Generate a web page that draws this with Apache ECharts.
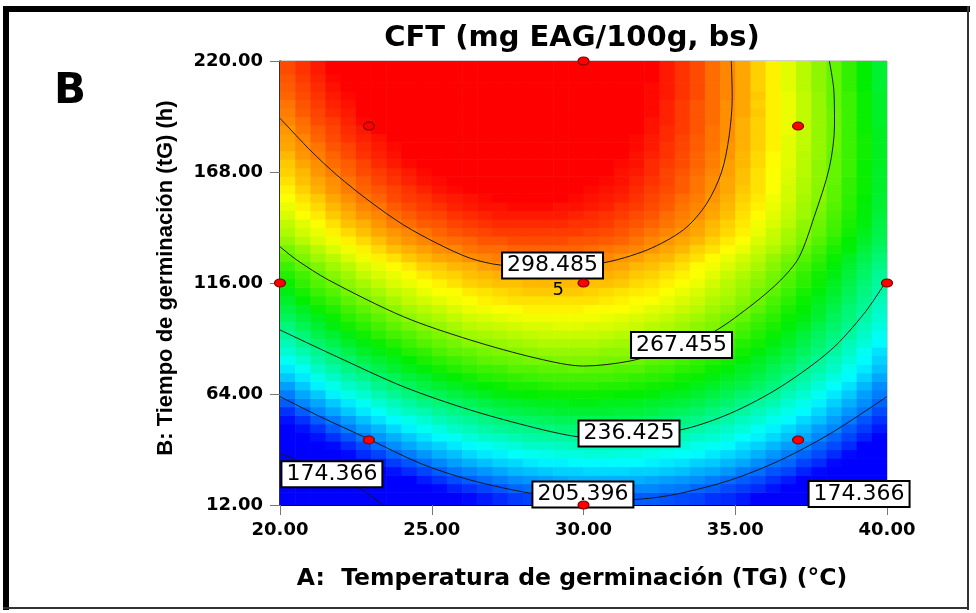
<!DOCTYPE html>
<html><head><meta charset="utf-8">
<script src="https://cdn.jsdelivr.net/npm/echarts@6/dist/echarts.min.js"></script>
<style>html,body{margin:0;padding:0;background:#fff}#chart{width:976px;height:613px}</style>
</head><body><div id="chart"></div>
<script>
// ---- Surface (cell centres) ----
const xCenters = [20.25,20.75,21.25,21.75,22.25,22.75,23.25,23.75,24.25,24.75,25.25,25.75,26.25,26.75,27.25,27.75,28.25,28.75,29.25,29.75,
                  30.25,30.75,31.25,31.75,32.25,32.75,33.25,33.75,34.25,34.75,35.25,35.75,36.25,36.75,37.25,37.75,38.25,38.75,39.25,39.75];
const yCenters = [16,20,24,28,32,36,40,44,48,52,56,60,64,68,72,76,80,84,88,92,96,100,104,108,112,116,120,124,128,132,136,140,144,148,152,156,160,164,168,172,176,180,184,188,192,196,200,204,208,212,216];

const cft016 = [149,154,159,164,168,173,177,180,184,187,190,193,195,197,199,201,202,203,204,205,206,206,206,205,205,204,203,202,200,199,197,194,192,189,186,183,179,175,171,167];
const cft020 = [155,160,165,169,174,178,182,186,189,192,195,198,200,202,204,206,207,208,209,210,210,211,211,210,210,209,208,206,205,203,201,199,196,193,190,187,183,179,175,171];
const cft024 = [160,165,170,175,179,183,187,191,194,197,200,203,205,207,209,211,212,213,214,215,215,215,215,215,214,213,212,211,209,207,205,203,200,197,194,191,187,184,179,175];
const cft028 = [166,171,175,180,184,188,192,196,199,202,205,208,210,212,214,216,217,218,219,219,220,220,220,219,219,218,217,215,214,212,209,207,204,202,198,195,191,187,183,179];
const cft032 = [171,176,181,185,190,194,197,201,204,207,210,213,215,217,219,220,222,223,223,224,224,224,224,224,223,222,221,219,218,216,214,211,208,206,202,199,195,191,187,183];
const cft036 = [176,181,186,190,195,199,202,206,209,212,215,217,220,222,223,225,226,227,228,228,229,229,228,228,227,226,225,224,222,220,218,215,212,209,206,203,199,195,191,186];
const cft040 = [181,186,191,195,199,203,207,211,214,217,219,222,224,226,228,229,231,231,232,233,233,233,233,232,231,230,229,227,226,224,221,219,216,213,210,206,203,199,194,190];
const cft044 = [186,191,196,200,204,208,212,215,218,221,224,226,229,231,232,234,235,236,236,237,237,237,237,236,235,234,233,231,230,228,225,223,220,217,214,210,206,202,198,193];
const cft048 = [191,196,200,205,209,213,216,220,223,226,228,231,233,235,237,238,239,240,241,241,241,241,241,240,239,238,237,235,233,231,229,226,223,220,217,213,210,205,201,197];
const cft052 = [196,200,205,209,213,217,221,224,227,230,233,235,237,239,241,242,243,244,245,245,245,245,245,244,243,242,240,239,237,235,232,230,227,224,220,217,213,209,204,200];
const cft056 = [200,205,210,214,218,222,225,229,232,234,237,239,241,243,245,246,247,248,249,249,249,249,248,248,247,245,244,242,240,238,236,233,230,227,224,220,216,212,208,203];
const cft060 = [205,210,214,218,222,226,230,233,236,239,241,243,245,247,249,250,251,252,252,253,253,252,252,251,250,249,248,246,244,242,239,236,234,230,227,223,219,215,211,206];
const cft064 = [209,214,218,223,227,230,234,237,240,243,245,247,249,251,253,254,255,256,256,256,256,256,255,255,254,252,251,249,247,245,242,240,237,233,230,226,222,218,213,209];
const cft068 = [213,218,223,227,231,234,238,241,244,247,249,251,253,255,256,258,258,259,260,260,260,259,259,258,257,256,254,252,250,248,246,243,240,236,233,229,225,221,216,211];
const cft072 = [218,222,227,231,235,238,242,245,248,250,253,255,257,259,260,261,262,263,263,263,263,263,262,261,260,259,257,256,253,251,249,246,243,239,236,232,228,224,219,214];
const cft076 = [222,226,231,235,239,242,246,249,252,254,257,259,261,262,263,265,265,266,266,267,266,266,265,265,263,262,260,259,256,254,251,249,245,242,238,235,231,226,222,217];
const cft080 = [226,230,235,239,242,246,249,252,255,258,260,262,264,266,267,268,269,269,270,270,270,269,269,268,266,265,263,261,259,257,254,251,248,245,241,237,233,229,224,219];
const cft084 = [230,234,238,242,246,250,253,256,259,261,264,266,267,269,270,271,272,273,273,273,273,272,272,271,269,268,266,264,262,260,257,254,251,247,244,240,236,231,226,221];
const cft088 = [233,238,242,246,250,253,256,259,262,265,267,269,271,272,273,274,275,276,276,276,276,275,274,273,272,271,269,267,265,262,259,257,253,250,246,242,238,233,229,224];
const cft092 = [237,241,246,249,253,257,260,263,265,268,270,272,274,275,276,277,278,279,279,279,279,278,277,276,275,273,272,270,267,265,262,259,256,252,248,244,240,236,231,226];
const cft096 = [240,245,249,253,257,260,263,266,269,271,273,275,277,278,279,280,281,281,282,282,281,281,280,279,277,276,274,272,270,267,264,261,258,254,251,246,242,238,233,228];
const cft100 = [244,248,252,256,260,263,266,269,272,274,276,278,280,281,282,283,284,284,284,284,284,283,282,281,280,278,276,274,272,269,267,263,260,256,253,249,244,240,235,230];
const cft104 = [247,251,256,259,263,266,269,272,275,277,279,281,283,284,285,286,287,287,287,287,286,286,285,284,282,281,279,277,274,272,269,266,262,258,255,250,246,241,237,231];
const cft108 = [250,255,259,262,266,269,272,275,278,280,282,284,285,287,288,289,289,289,289,289,289,288,287,286,285,283,281,279,276,274,271,268,264,260,256,252,248,243,238,233];
const cft112 = [253,258,262,265,269,272,275,278,280,283,285,286,288,289,290,291,292,292,292,292,291,290,289,288,287,285,283,281,278,276,273,269,266,262,258,254,250,245,240,235];
const cft116 = [256,261,265,268,272,275,278,281,283,285,287,289,291,292,293,293,294,294,294,294,293,293,292,290,289,287,285,283,280,277,274,271,268,264,260,256,251,246,241,236];
const cft120 = [259,263,267,271,274,278,281,283,286,288,290,291,293,294,295,296,296,296,296,296,295,295,294,292,291,289,287,285,282,279,276,273,269,265,261,257,253,248,243,237];
const cft124 = [262,266,270,274,277,281,283,286,288,291,292,294,295,297,298,298,299,299,299,298,298,297,296,294,293,291,289,286,284,281,278,275,271,267,263,259,254,249,244,239];
const cft128 = [266,270,274,277,281,284,287,289,292,294,296,297,299,300,301,301,302,302,301,301,300,300,298,297,295,294,291,289,286,283,280,277,273,269,265,261,256,251,246,241];
const cft132 = [269,273,277,281,284,287,290,293,295,297,299,300,302,303,303,304,304,304,304,304,303,302,301,300,298,296,294,291,289,286,283,279,276,272,267,263,258,254,248,243];
const cft136 = [273,277,281,284,287,290,293,296,298,300,302,303,304,306,306,307,307,307,307,306,306,305,304,302,300,298,296,294,291,288,285,281,278,274,270,265,260,255,250,245];
const cft140 = [276,280,283,287,290,293,296,298,300,302,304,306,307,308,309,309,309,309,309,309,308,307,306,304,302,300,298,296,293,290,287,283,279,275,271,267,262,257,252,246];
const cft144 = [278,282,286,289,293,295,298,301,303,305,306,308,309,310,311,311,311,311,311,310,310,309,307,306,304,302,300,297,294,291,288,284,281,277,272,268,263,258,253,247];
const cft148 = [281,285,288,292,295,298,300,303,305,307,308,310,311,312,313,313,313,313,313,312,311,310,309,307,306,303,301,299,296,293,289,286,282,278,274,269,264,259,254,248];
const cft152 = [283,287,290,294,297,300,302,305,307,309,310,312,313,314,314,315,315,315,314,314,313,312,310,309,307,305,302,300,297,294,290,287,283,279,274,270,265,260,254,249];
const cft156 = [285,289,292,296,299,302,304,307,309,310,312,313,314,315,316,316,316,316,316,315,314,313,312,310,308,306,303,301,298,295,291,288,284,280,275,271,266,260,255,249];
const cft160 = [287,291,295,298,301,304,306,308,310,312,314,315,316,317,317,318,318,318,317,316,315,314,313,311,309,307,305,302,299,296,292,289,285,280,276,271,266,261,256,250];
const cft164 = [289,293,296,299,302,305,308,310,312,314,315,316,317,318,319,319,319,319,318,317,316,315,314,312,310,308,305,302,299,296,293,289,285,281,276,272,267,261,256,250];
const cft168 = [291,294,298,301,304,307,309,311,313,315,316,318,319,319,320,320,320,320,319,318,317,316,314,313,311,308,306,303,300,297,293,289,285,281,277,272,267,262,256,250];
const cft172 = [292,296,299,303,305,308,311,313,315,316,318,319,320,321,321,321,321,321,320,319,318,317,315,314,311,309,307,304,301,297,294,290,286,282,277,272,267,262,256,251];
const cft176 = [294,298,301,304,307,310,312,314,316,318,319,320,321,322,322,322,322,322,321,320,319,318,316,314,312,310,307,304,301,298,294,290,286,282,277,273,267,262,257,251];
const cft180 = [296,299,302,306,308,311,313,315,317,319,320,321,322,323,323,323,323,323,322,321,320,319,317,315,313,310,308,305,302,298,295,291,287,282,278,273,268,262,257,251];
const cft184 = [297,300,304,307,310,312,314,316,318,320,321,322,323,324,324,324,324,323,323,322,320,319,317,315,313,311,308,305,302,299,295,291,287,282,278,273,268,262,257,251];
const cft188 = [298,302,305,308,311,313,316,318,319,321,322,323,324,325,325,325,325,324,323,322,321,320,318,316,314,311,309,306,302,299,295,291,287,283,278,273,268,262,256,251];
const cft192 = [300,303,307,309,312,315,317,319,321,322,323,324,325,325,326,326,325,325,324,323,322,320,319,317,314,312,309,306,303,299,295,291,287,283,278,273,268,262,256,250];
const cft196 = [301,305,308,311,313,316,318,320,322,323,324,325,326,326,326,326,326,325,325,324,322,321,319,317,315,312,309,306,303,299,296,292,287,283,278,273,268,262,256,250];
const cft200 = [302,306,309,312,314,317,319,321,322,324,325,326,326,327,327,327,327,326,325,324,323,321,319,317,315,312,309,306,303,299,296,291,287,283,278,273,267,262,256,250];
const cft204 = [304,307,310,313,315,318,320,322,323,325,326,327,327,328,328,328,327,327,326,325,323,322,320,318,315,313,310,307,303,300,296,292,287,283,278,273,267,262,256,250];
const cft208 = [305,308,311,314,316,319,321,323,324,326,327,327,328,328,328,328,328,327,326,325,324,322,320,318,315,313,310,307,303,300,296,291,287,282,277,272,267,261,255,249];
const cft212 = [306,309,312,315,317,320,322,324,325,326,327,328,329,329,329,329,328,328,327,325,324,322,320,318,316,313,310,307,303,300,296,291,287,282,277,272,267,261,255,249];
const cft216 = [307,310,313,316,319,321,323,325,326,327,328,329,329,330,330,329,329,328,327,326,324,323,321,318,316,313,310,307,303,300,296,291,287,282,277,272,267,261,255,249];

// ---- Contour lines ----
const contour298 = [[20,193.2],[20.99,178.3],[21.87,166.6],[22.97,154.1],[24.07,143.2],[25.17,134.6],[26.27,127.6],[27.26,124.4],[28.8,123.6],[30.56,125.2],[32.1,131.5],[33.3,141],[34.05,153],[34.55,168],[34.8,185],[34.9,203],[34.87,220]];
const contour267 = [[20,133],[20.55,126.8],[21.6,117.4],[24.07,100.2],[26.27,89.3],[28.47,80.7],[30,77.1],[31.55,79.5],[33,85.5],[34.3,93.2],[35.62,106.5],[36.5,117.4],[37.1,128],[37.6,147],[38.1,170],[38.27,190],[38.25,206],[38.1,220]];
const contour236 = [[20,94],[21.87,81.5],[24.07,67.4],[26.27,56.5],[28.47,47.9],[29.79,44],[30.8,43.4],[33.2,47.2],[34.85,55],[36.5,67.4],[38.15,84.6],[39.25,101.8],[40,117.4]];
const contour205 = [[20,62.8],[21.32,53.4],[22.86,43.3],[24.62,31.5],[26.27,23.7],[28.25,17.5],[29.8,15],[31.0,14.2],[32.2,15.2],[33.2,17.5],[34.85,23.7],[36.5,33.1],[38.15,45.6],[40,62.8]];
const contour174a = [[20,36.2],[21.3,28.4],[22.53,20.6],[23.4,12]];
const contour174b = [[38.4,12],[39.2,16.5],[40,21.5]];

const contourLabels = [[28.98,124.2,'298.485'],[33.23,87.0,'267.455'],[31.5,45.5,'236.425'],[29.98,16.9,'205.396'],[21.71,26.4,'174.366'],[39.08,17.2,'174.366']];
const centerCount = [[29.17,112.7,'5']];

// ---- Design points ----
const designPoints = [[20,116],[40,116],[30,12],[30,220],[30,116],[22.93,42.46],[37.07,42.46],[22.93,189.54],[37.07,189.54]];

const xTicks = [20,25,30,35,40];
const yTicks = [12,64,116,168,220];

const rows = [cft016,cft020,cft024,cft028,cft032,cft036,cft040,cft044,cft048,cft052,cft056,cft060,cft064,cft068,cft072,cft076,cft080,cft084,cft088,cft092,
  cft096,cft100,cft104,cft108,cft112,cft116,cft120,cft124,cft128,cft132,cft136,cft140,cft144,cft148,cft152,cft156,cft160,cft164,cft168,cft172,
  cft176,cft180,cft184,cft188,cft192,cft196,cft200,cft204,cft208,cft212,cft216];
const surfaceData = [];
rows.forEach((r, j) => r.forEach((v, i) => surfaceData.push([xCenters[i], yCenters[j], v])));

const X_MIN = xTicks[0], X_MAX = xTicks[xTicks.length - 1];
const Y_MIN = yTicks[0], Y_MAX = yTicks[yTicks.length - 1];

function renderCell(params, api) {
  const x = api.value(0), y = api.value(1);
  const xi = xCenters.indexOf(x), yi = yCenters.indexOf(y);
  const xl = xi === 0 ? X_MIN : (xCenters[xi - 1] + x) / 2;
  const xr = xi === xCenters.length - 1 ? X_MAX : (x + xCenters[xi + 1]) / 2;
  const yb = yi === 0 ? Y_MIN : (yCenters[yi - 1] + y) / 2;
  const yt = yi === yCenters.length - 1 ? Y_MAX : (y + yCenters[yi + 1]) / 2;
  const p0 = api.coord([xl, yt]);
  const p1 = api.coord([xr, yb]);
  return {type: 'rect', shape: {x: p0[0], y: p0[1], width: p1[0] - p0[0] + 0.6, height: p1[1] - p0[1] + 0.6},
    style: {fill: api.visual('color')}};
}

const chart = echarts.init(document.getElementById('chart'), null, {renderer: 'canvas'});
const lineStyle = {color: '#1a1a1a', width: 1};
function contourSeries(d) {
  return {type: 'line', data: d, smooth: 0.3, symbol: 'none', lineStyle: lineStyle, z: 3, silent: true, clip: true};
}
const tickFont = {fontFamily: 'DejaVu Sans', fontWeight: 'bold', fontSize: 18, color: '#000'};

chart.setOption({
  backgroundColor: '#fff',
  animation: false,
  grid: {left: 280, top: 61, width: 607, height: 444, show: true, borderColor: '#a0a0a0', borderWidth: 1, backgroundColor: 'transparent'},
  xAxis: {type: 'value', min: X_MIN, max: X_MAX, interval: 5,
    axisLine: {show: true, onZero: false, lineStyle: {color: '#000', width: 1}},
    axisTick: {show: true, inside: false, length: 10, lineStyle: {color: '#777'}},
    axisLabel: Object.assign({margin: 16, formatter: v => v.toFixed(2)}, tickFont),
    splitLine: {show: false}},
  yAxis: {type: 'value', min: Y_MIN, max: Y_MAX,
    axisLine: {show: true, onZero: false, lineStyle: {color: '#000', width: 1.5}},
    axisTick: {show: true, inside: false, length: 10, customValues: yTicks, lineStyle: {color: '#777'}},
    axisLabel: Object.assign({margin: 17, customValues: yTicks, formatter: v => v.toFixed(2)}, tickFont),
    splitLine: {show: false}},
  visualMap: {type: 'continuous', show: false, seriesIndex: 0, dimension: 2, min: 194, max: 316,
    inRange: {color: ['#0000ff', '#00ffff', '#00ee00', '#ffff00', '#ff0000']}},
  series: [
    {type: 'custom', data: surfaceData, renderItem: renderCell, encode: {x: 0, y: 1}, z: 1, silent: true, clip: true},
    contourSeries(contour298), contourSeries(contour267), contourSeries(contour236),
    contourSeries(contour205), contourSeries(contour174a), contourSeries(contour174b),
    {type: 'scatter', data: contourLabels, symbol: 'rect', symbolSize: 1, z: 4, silent: true,
      itemStyle: {color: 'rgba(0,0,0,0)', opacity: 1}, clip: false,
      label: {show: true, position: 'inside', formatter: p => p.data[2], fontFamily: 'DejaVu Sans', fontSize: 22,
        color: '#000', backgroundColor: '#fff', borderColor: '#000', borderWidth: 2, padding: [2, 4, 0, 4], lineHeight: 22}},
    {type: 'scatter', data: centerCount, symbol: 'rect', symbolSize: 1, z: 4, silent: true,
      itemStyle: {color: 'rgba(0,0,0,0)', opacity: 1},
      label: {show: true, position: 'inside', formatter: p => p.data[2], fontFamily: 'DejaVu Sans', fontSize: 18, color: '#000'}},
    {type: 'scatter', data: designPoints, symbol: 'circle', symbolSize: [11, 8], z: 5,
      silent: true, clip: false, itemStyle: {color: '#ff0000', borderColor: '#7a0000', borderWidth: 1, opacity: 1}}
  ],
  graphic: [
    {type: 'rect', shape: {x: 3, y: 6, width: 967, height: 6}, style: {fill: '#000'}, silent: true},
    {type: 'rect', shape: {x: 3, y: 6, width: 6, height: 604}, style: {fill: '#000'}, silent: true},
    {type: 'rect', shape: {x: 967, y: 6, width: 2, height: 604}, style: {fill: '#333'}, silent: true},
    {type: 'rect', shape: {x: 3, y: 607, width: 966, height: 2}, style: {fill: '#333'}, silent: true},
    {type: 'text', x: 572, y: 38, style: {text: 'CFT (mg EAG/100g, bs)', fontFamily: 'DejaVu Sans', fontWeight: 'bold',
      fontSize: 29, fill: '#000', textAlign: 'center', textVerticalAlign: 'middle'}},
    {type: 'text', x: 70, y: 92, style: {text: 'B', fontFamily: 'DejaVu Sans', fontWeight: 'bold',
      fontSize: 42, fill: '#000', textAlign: 'center', textVerticalAlign: 'middle'}},
    {type: 'text', x: 572, y: 579, style: {text: 'A:  Temperatura de germinación (TG) (°C)', fontFamily: 'DejaVu Sans', fontWeight: 'bold',
      fontSize: 23.5, fill: '#000', textAlign: 'center', textVerticalAlign: 'middle'}},
    {type: 'text', x: 166, y: 278, rotation: Math.PI / 2, style: {text: 'B: Tiempo de germinación (tG) (h)', fontFamily: 'Liberation Sans', fontWeight: 'bold',
      fontSize: 22, fill: '#000', textAlign: 'center', textVerticalAlign: 'middle'}}
  ]
});
</script></body></html>
